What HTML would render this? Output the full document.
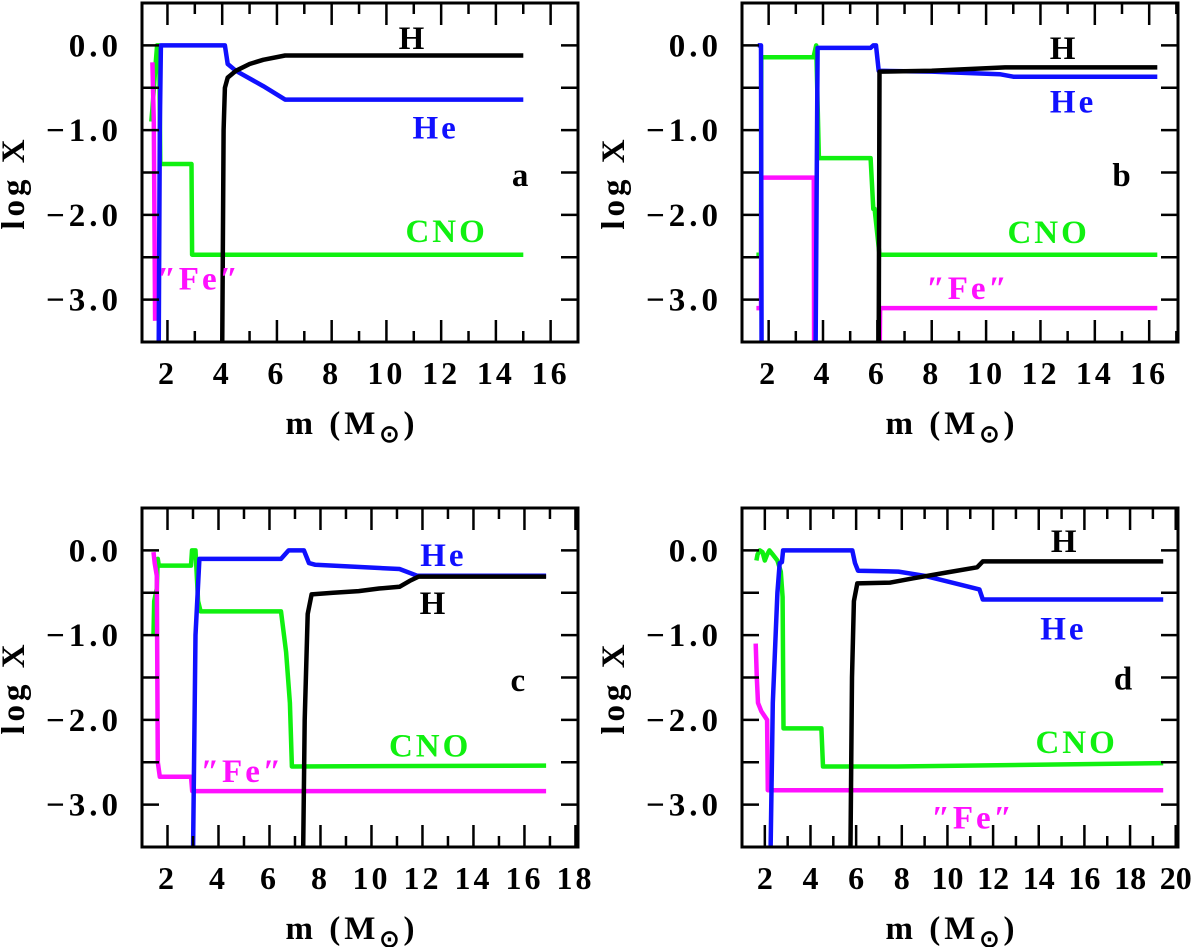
<!DOCTYPE html>
<html><head><meta charset="utf-8"><style>
html,body{margin:0;padding:0;background:#fff;}
svg{display:block;}
text{font-family:"Liberation Serif",serif;font-weight:bold;fill:#000;}
</style></head><body>
<svg id="chart" width="1200" height="947" viewBox="0 0 1200 947" xmlns="http://www.w3.org/2000/svg"></svg>
<script>
// ---- data (mass in Msun, log X) ----
const panelLetters = ["a","b","c","d"];
const xRanges = [[1.07,17.0],[1.02,17.06],[1.0,18.1],[1.0,20.1]];
const xTickMax = [16,16,18,20];
const yTickLabels = ["0.0","-1.0","-2.0","-3.0"];
const yTickValues = [0,-1,-2,-3];

const aH = [[4.0,-3.6],[4.05,-1.0],[4.1,-0.5],[4.2,-0.38],[4.5,-0.3],[5,-0.22],[5.5,-0.17],[6.3,-0.12],[15,-0.12]];
const aHe = [[1.68,-3.6],[1.72,-1.0],[1.76,0],[4.1,0],[4.2,-0.22],[4.5,-0.3],[5.5,-0.48],[6.3,-0.64],[15,-0.64]];
const aCNO = [[1.41,-0.9],[1.45,-0.75],[1.55,-0.3],[1.62,0],[1.7,0],[1.74,-1.4],[2.88,-1.4],[2.9,-2.47],[15,-2.47]];
const aFe = [[1.45,-0.2],[1.5,-0.9],[1.55,-3.25]];

const bH = [[6.05,-3.6],[6.08,-0.31],[8,-0.3],[10.7,-0.26],[16.3,-0.26]];
const bHe = [[1.6,0],[1.72,0],[1.75,-5],[3.7,-5],[3.8,-0.03],[5.75,-0.03],[5.85,0],[5.95,0],[6.05,-0.3],[8,-0.31],[10.5,-0.34],[11,-0.37],[16.3,-0.37]];
const bCNO = [[1.55,-2.47],[1.72,-2.47],[1.73,-0.14],[3.65,-0.14],[3.75,0],[3.85,-1.33],[5.75,-1.33],[5.85,-1.93],[5.9,-1.93],[6.08,-2.47],[16.3,-2.47]];
const bFe = [[1.55,-3.1],[1.72,-3.1],[1.73,-1.56],[3.66,-1.56],[3.68,-5],[6.05,-5],[6.1,-3.1],[16.3,-3.1]];

const cH = [[7.32,-3.6],[7.38,-2.0],[7.5,-0.75],[7.65,-0.52],[8.5,-0.5],[9.5,-0.48],[10.3,-0.45],[11.1,-0.43],[11.5,-0.36],[11.85,-0.31],[16.85,-0.31]];
const cHe = [[3.0,-3.6],[3.1,-1.0],[3.25,-0.1],[6.45,-0.1],[6.75,0],[7.35,0],[7.55,-0.15],[7.8,-0.17],[11.1,-0.22],[11.8,-0.3],[16.85,-0.3]];
const cCNO = [[1.45,-1.0],[1.48,-0.6],[1.58,-0.45],[1.62,-0.1],[1.66,-0.18],[2.92,-0.18],[2.96,0],[3.1,0],[3.2,-0.6],[3.3,-0.72],[6.45,-0.72],[6.65,-1.2],[6.8,-1.8],[6.88,-2.55],[16.85,-2.54]];
const cFe = [[1.45,-0.02],[1.5,-0.15],[1.58,-0.3],[1.62,-2.5],[1.7,-2.67],[2.92,-2.67],[2.97,-2.84],[16.85,-2.84]];

const dH = [[5.75,-3.6],[5.82,-1.5],[5.9,-0.6],[6.05,-0.39],[7.5,-0.38],[8.5,-0.33],[10,-0.26],[11.3,-0.2],[11.55,-0.13],[19.45,-0.13]];
const dHe = [[2.25,-3.6],[2.35,-1.8],[2.55,-0.5],[2.65,-0.15],[2.75,-0.14],[2.8,0],[5.83,0],[5.95,-0.15],[6.08,-0.24],[7.85,-0.25],[9,-0.3],[10.5,-0.4],[11.4,-0.46],[11.55,-0.58],[19.45,-0.58]];
const dCNO = [[1.63,-0.12],[1.68,-0.05],[1.78,0],[1.9,-0.02],[2.0,-0.12],[2.1,-0.05],[2.2,0],[2.35,-0.05],[2.55,-0.12],[2.7,-0.25],[2.78,-0.55],[2.82,-2.1],[4.48,-2.1],[4.55,-2.55],[7.8,-2.55],[19.45,-2.51]];
const dFe = [[1.6,-1.1],[1.65,-1.5],[1.7,-1.8],[1.85,-1.9],[2.1,-2.0],[2.13,-2.83],[19.45,-2.83]];

const seriesNames = ["H","He","CNO","Fe"];
const panelSeries = [[aH,aHe,aCNO,aFe],[bH,bHe,bCNO,bFe],[cH,cHe,cCNO,cFe],[dH,dHe,dCNO,dFe]];
// label positions in data coords [x, y] for H, He, CNO, "Fe", letter
const labelPos = [
  [[10.97,0.1],[11.8,-0.96],[12.2,-2.18],[3.16,-2.74],[14.94,-1.52]],
  [[12.87,-0.02],[13.2,-0.65],[12.3,-2.19],[9.34,-2.85],[15.04,-1.52]],
  [[12.45,-0.61],[12.82,-0.04],[12.3,-2.29],[4.94,-2.59],[15.8,-1.52]],
  [[15.16,0.12],[15.08,-0.91],[15.66,-2.25],[11.13,-3.14],[17.76,-1.5]]
];

// ---- drawing ----
const NS = "http://www.w3.org/2000/svg";
const svg = document.getElementById("chart");
const colors = ["#000000","#1010ff","#10f010","#ff10ff"];
const labelText = ["H","He","CNO","\u2033Fe\u2033"];
const panelOrigins = [[142,3],[742,3],[142,508],[742,508]];
const PW = 436, PH = 339, Y0 = 0.5, Y1 = -3.5;

function mk(tag, attrs, parent){
  const e = document.createElementNS(NS, tag);
  for (const k in attrs) e.setAttribute(k, attrs[k]);
  parent.appendChild(e);
  return e;
}

const defs = mk("defs", {}, svg);

panelOrigins.forEach((o, p) => {
  const [ox, oy] = o;
  const [xa, xb] = xRanges[p];
  const sx = v => ox + (v - xa) / (xb - xa) * PW;
  const sy = v => oy + (Y0 - v) / (Y0 - Y1) * PH;

  const g = mk("g", {}, svg);
  
  

  const cp = mk("clipPath", {id: "clip" + p}, defs);
  mk("rect", {x: ox, y: oy, width: PW, height: PH}, cp);

  const sg = mk("g", {"clip-path": "url(#clip" + p + ")"}, g);
  [2,3,1,0].forEach(si => {
    const pts = panelSeries[p][si];
    const d = pts.map((q, i) => (i ? "L" : "M") + sx(q[0]).toFixed(1) + "," + sy(q[1]).toFixed(1)).join(" ");
    const path = mk("path", {d: d, fill: "none", stroke: colors[si], "stroke-width": 4.5, "stroke-linejoin": "round"}, sg);
    
    
  });

  const tg = mk("g", {stroke: "#000", "stroke-width": 2.5}, g);
  for (let t = Math.ceil(xa); t <= xb; t++) {
    const x = sx(t), len = (t % 2 === 0) ? 22 : 11;
    mk("line", {x1: x, y1: oy + PH, x2: x, y2: oy + PH - len}, tg);
    mk("line", {x1: x, y1: oy, x2: x, y2: oy + len}, tg);
  }
  for (let t = 0; t <= 8; t++) {
    const v = 0.5 - t * 0.5;
    if (v >= 0.49 || v <= -3.49) continue;
    const y = sy(v);
    mk("line", {x1: ox, y1: y, x2: ox + 17, y2: y}, tg);
    mk("line", {x1: ox + PW, y1: y, x2: ox + PW - 17, y2: y}, tg);
  }

  const fr = mk("rect", {x: ox, y: oy, width: PW, height: PH, fill: "none", stroke: "#000", "stroke-width": 3}, g);
  
  

  for (let t = 2; t <= xTickMax[p]; t += 2) {
    const tx = mk("text", {x: sx(t), y: oy + PH + 42, "text-anchor": "middle", "font-size": 32, "letter-spacing": p === 3 ? 0 : 3}, g);
    tx.textContent = String(t);
    
    
  }
  yTickValues.forEach((v, i) => {
    const ty = mk("text", {x: ox - 20, y: sy(v) + 11, "text-anchor": "end", "font-size": 33, "letter-spacing": 4}, g);
    ty.textContent = yTickLabels[i].replace("-", "\u2212");
    
    
  });
  const xt = mk("text", {x: ox + 210, y: oy + PH + 92, "text-anchor": "middle", "font-size": 33, "letter-spacing": 4}, g);
  xt.innerHTML = 'm (M<tspan dy="8" font-size="24">\u2299</tspan><tspan dy="-8">)</tspan>';
  
  
  const cy = oy + PH / 2 + 10;
  const yt = mk("text", {x: ox - 118, y: cy, "text-anchor": "middle", "font-size": 33, "letter-spacing": 4, transform: "rotate(-90 " + (ox - 118) + " " + cy + ")"}, g);
  yt.textContent = "log X";
  
  

  labelPos[p].forEach((lp, i) => {
    const isLetter = i === 4;
    const col = isLetter ? "#000" : colors[i];
    const lt = mk("text", {x: sx(lp[0]), y: sy(lp[1]) + 12, "text-anchor": "middle", "font-size": 33, "letter-spacing": 3, style: "fill:" + col}, g);
    lt.textContent = isLetter ? panelLetters[p] : labelText[i];
    
    
  });
});
</script>
</body></html>
